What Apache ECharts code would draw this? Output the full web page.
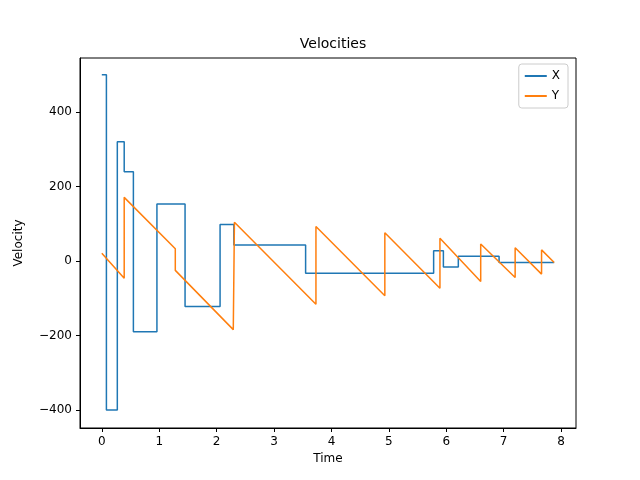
<!DOCTYPE html>
<html>
<head>
<meta charset="utf-8">
<script src="https://cdn.jsdelivr.net/npm/echarts@6/dist/echarts.min.js"></script>
<style>html,body{margin:0;padding:0;background:#fff}#c{width:640px;height:480px}</style>
</head>
<body>
<div id="c"></div>
<script>
// X velocity: value holds from t until the next t
var xTimes = [0, 0.08, 0.27, 0.39, 0.55, 0.96, 1.45, 2.06, 2.30, 3.55, 5.78, 5.95, 6.21, 6.92, 7.88];
var xVals = [500, -400, 320, 240, -190, 153, -122, 98, 43, -33, 28, -16, 13, -4, -4];
// Y velocity: sawtooth vertices
var yTimes = [0, 0.39, 0.39, 1.28, 1.28, 2.29, 2.31, 3.73, 3.73, 4.93, 4.93, 5.89, 5.89, 6.60, 6.60, 7.20, 7.20, 7.66, 7.66, 7.88];
var yVals = [21, -46, 171, 33, -25, -184, 104, -116, 93, -93, 76, -73, 61, -55, 46, -44, 36, -35, 30, -4];
var xTicks = [0, 1, 2, 3, 4, 5, 6, 7, 8];
var yTicks = [-400, -200, 0, 200, 400];

function pairs(t, v) {
    var out = [];
    for (var i = 0; i < t.length; i++) out.push([t[i], v[i]]);
    return out;
}
function minus(v) {
    return String(v).replace('-', '\u2212');
}

var chart = echarts.init(document.getElementById('c'));
var axisCommon = {
    axisLine: {onZero: false, lineStyle: {color: '#000', width: 1}},
    axisTick: {show: true, length: 4, lineStyle: {color: '#000'}},
    axisLabel: {color: '#000', fontSize: 12, fontFamily: 'DejaVu Sans', formatter: minus},
    splitLine: {show: false},
    nameLocation: 'middle',
    nameTextStyle: {color: '#000', fontSize: 12, fontFamily: 'DejaVu Sans'}
};
chart.setOption({
    animation: false,
    title: {text: 'Velocities', left: 328, top: 32, textAlign: 'center',
        textStyle: {fontSize: 14, fontWeight: 'normal', color: '#000', fontFamily: 'DejaVu Sans'}},
    legend: {
        right: 72, top: 64, orient: 'vertical', itemWidth: 22, itemHeight: 2, itemGap: 8,
        borderColor: '#ccc', borderWidth: 1, borderRadius: 3, padding: [6, 8, 6, 6],
        textStyle: {fontSize: 12, fontFamily: 'DejaVu Sans', color: '#000'},
        icon: 'rect',
        data: ['X', 'Y']
    },
    grid: {left: 80, right: 64, top: 58, bottom: 52, show: true, borderColor: '#000', borderWidth: 1},
    xAxis: echarts.util.merge({
        type: 'value', min: -0.38, max: 8.26, name: 'Time', nameGap: 24,
        axisTick: {customValues: xTicks},
        axisLabel: {customValues: xTicks}
    }, axisCommon),
    yAxis: echarts.util.merge({
        type: 'value', min: -448, max: 545, name: 'Velocity', nameGap: 55,
        axisTick: {customValues: yTicks},
        axisLabel: {customValues: yTicks}
    }, axisCommon),
    series: [
        {name: 'X', type: 'line', step: 'end', data: pairs(xTimes, xVals), symbol: 'none',
            lineStyle: {color: '#1f77b4', width: 1.5}, itemStyle: {color: '#1f77b4'}},
        {name: 'Y', type: 'line', data: pairs(yTimes, yVals), symbol: 'none',
            lineStyle: {color: '#ff7f0e', width: 1.5}, itemStyle: {color: '#ff7f0e'}}
    ]
});
</script>
</body>
</html>
